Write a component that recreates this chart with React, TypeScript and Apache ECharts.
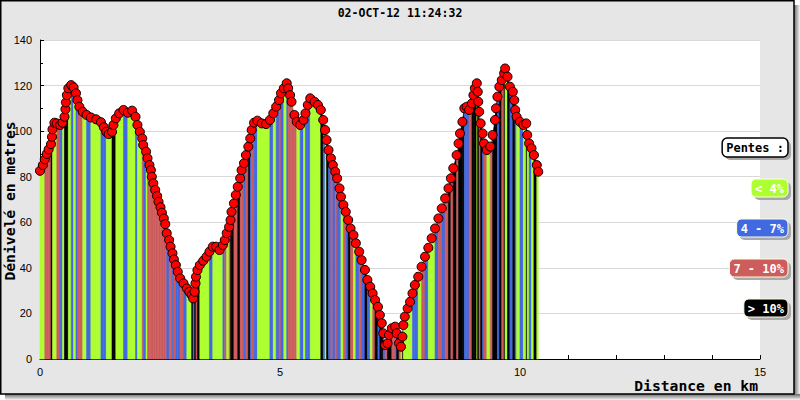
import { useEffect, useRef } from "react";
import * as echarts from "echarts";

const CHART_TITLE = "02-OCT-12 11:24:32";
const X_AXIS_NAME = "Distance en km";
const Y_AXIS_NAME = "Dénivelé en metres";
const X_MIN = 0;
const X_MAX = 15;
const X_INTERVAL = 5;
const Y_MIN = 0;
const Y_MAX = 140;
const Y_INTERVAL = 20;

const LEGEND_TITLE = "Pentes :";
const SLOPE_KEYS = ["g", "b", "r", "k"];
const SLOPE_LABELS = ["< 4%", "4 - 7%", "7 - 10%", "> 10%"];
const SLOPE_COLORS = ["#adff2f", "#4169e1", "#cd5c5c", "#000000"];

// distance along the track (km)
const DIST_KM = [
  0.0, 0.06, 0.1, 0.14, 0.18, 0.23, 0.25, 0.26, 0.3, 0.35,
  0.42, 0.47, 0.51, 0.53, 0.54, 0.56, 0.59, 0.65, 0.7, 0.75,
  0.78, 0.82, 0.89, 0.97, 1.06, 1.17, 1.27, 1.33, 1.38, 1.43,
  1.5, 1.53, 1.58, 1.65, 1.74, 1.83, 1.92, 1.99, 2.03, 2.08,
  2.13, 2.15, 2.21, 2.24, 2.28, 2.31, 2.33, 2.36, 2.4, 2.44,
  2.47, 2.51, 2.54, 2.58, 2.61,
  2.64, 2.69, 2.72, 2.76, 2.79, 2.83, 2.87, 2.92, 2.99, 3.06,
  3.11, 3.16, 3.19, 3.22, 3.24, 3.25, 3.28, 3.33, 3.4, 3.47,
  3.53, 3.6, 3.67, 3.74, 3.81, 3.85, 3.89, 3.94, 3.97, 3.99,
  4.04, 4.08, 4.12, 4.17, 4.2, 4.25, 4.29, 4.34, 4.38, 4.41,
  4.46, 4.53, 4.62, 4.71, 4.79, 4.86, 4.92, 4.98, 5.02, 5.08,
  5.14,
  5.17, 5.21, 5.24, 5.3, 5.35, 5.42, 5.49, 5.53, 5.58, 5.63,
  5.72, 5.79, 5.85, 5.9, 5.94, 5.97, 6.01, 6.06, 6.1, 6.15,
  6.19, 6.24, 6.27, 6.32, 6.37, 6.42, 6.47, 6.53, 6.58, 6.65,
  6.7, 6.77, 6.82, 6.88, 6.93, 6.98, 7.04, 7.08, 7.12, 7.15,
  7.19, 7.24, 7.27, 7.33, 7.4, 7.43, 7.48, 7.52, 7.55, 7.57,
  7.6, 7.66, 7.71, 7.76,
  7.81, 7.88, 7.95, 8.02, 8.09, 8.16, 8.23, 8.3, 8.37, 8.44,
  8.51, 8.56, 8.61, 8.68, 8.72, 8.75, 8.8, 8.84, 8.89, 8.94,
  9.0, 9.03, 9.06, 9.1, 9.12, 9.13, 9.15, 9.18, 9.22, 9.25,
  9.31, 9.38, 9.43, 9.48, 9.5, 9.53, 9.57, 9.62, 9.67, 9.69,
  9.74, 9.79, 9.85, 9.88, 9.9, 9.93, 10.0, 10.07, 10.13, 10.15,
  10.19, 10.24, 10.29, 10.35, 10.38,
];

// elevation (m)
const ELEVATION_M = [
  82.6, 85.1, 87.6, 90, 92, 94.3, 97.5, 100.8, 103.7, 103.4,
  102.7, 103.7, 106.3, 109.6, 112.6, 115.8, 118.8, 120.2, 119.2, 116.6,
  113.6, 110.7, 108.5, 107.1, 106, 105.2, 103.9, 101.7, 99.7, 98.7,
  99.7, 102.7, 105.6, 107.8, 109.3, 108.1, 109, 106.3, 102.7, 99.7,
  96.8, 93.9, 91, 88.1, 85.1, 82.9, 80, 77.1, 74.2, 71.5,
  69, 66.6, 64.2, 61.7, 59.2,
  55.2, 52.2, 49.3, 46.4, 43.7, 41.2, 38.3, 35.4, 33.2, 31,
  29.5, 28.1, 26.6, 29.5, 33.2, 36.1, 39, 41.2, 43.1, 44.9,
  47.1, 49.3, 49.3, 47.8, 50, 52.2, 55.2, 58, 61, 64.6,
  68.3, 72, 75.6, 79.3, 82.9, 85.9, 89.5, 93.2, 96.8, 100.5,
  103.7, 104.6, 103.4, 103.1, 104.9, 107.8, 110.7, 113.6, 116.6, 118.8,
  121,
  118.8, 115.8, 112.9, 107.1, 104.1, 102.7, 104.9, 107.8, 111.5, 114.4,
  112.9, 111.5, 109.3, 104.9, 100.5, 96.1, 91.7, 88.1, 85.1, 82.2,
  79.3, 74.9, 71.2, 67.6, 64.6, 61, 57.3, 54.4, 50.8, 47.1,
  43.4, 39.1, 34.7, 31.7, 28.8, 25.9, 22.9, 19.3, 15.7, 11.3,
  6.1, 6.9, 10.5, 13.5, 14.2, 11.3, 6.9, 5.4, 9.8, 14.9,
  18.6, 22.2, 25.1, 28.8,
  32.5, 36.1, 40.5, 44.9, 48.8, 53, 57.3, 61.7, 66.1, 70.5,
  74.9, 79.3, 83.7, 89.5, 94.6, 99, 104.1, 110, 110.7, 109.3,
  112.2, 115.8, 118.8, 121, 117.3, 112.9, 108.5, 103.4, 99, 94.6,
  91.7, 93.2, 98.3, 104.9, 110, 115.1, 119.5, 122.4, 125.4, 127.5,
  123.9, 119.5, 117.3, 113.6, 109.3, 106.3, 104.1, 102.7, 103.4, 98.3,
  94.6, 92.5, 89.5, 85.1, 82.2,
];

// slope class of the bar starting at each point: g <4%, b 4-7%, r 7-10%, k >10%
const SLOPE_CLASS = [
  "g", "g", "r", "r", "r", "k", "k", "g", "g", "r",
  "b", "g", "k", "k", "k", "k", "g", "b", "g", "b",
  "r", "r", "g", "b", "g", "g", "b", "b", "g", "g",
  "k", "k", "g", "g", "b", "g", "g", "b", "g", "g",
  "r", "b", "g", "r", "r", "r", "r", "r", "r", "r",
  "r", "r", "r", "r", "r",
  "b", "r", "r", "b", "r", "b", "b", "r", "b", "g",
  "g", "k", "b", "k", "k", "r", "k", "g", "g", "g",
  "b", "g", "g", "g", "b", "r", "g", "r", "k", "k",
  "r", "r", "k", "r", "r", "b", "r", "k", "b", "r",
  "b", "g", "g", "g", "b", "g", "b", "r", "b", "g",
  "b",
  "r", "r", "r", "r", "g", "b", "g", "b", "b", "g",
  "g", "g", "k", "b", "g", "k", "b", "r", "b", "r",
  "b", "b", "g", "r", "b", "k", "r", "g", "b", "r",
  "b", "k", "b", "g", "r", "k", "b", "k", "k", "b",
  "r", "k", "k", "r", "b", "k", "r", "g", "k", "g",
  "g", "g", "g", "b",
  "b", "g", "r", "b", "g", "g", "b", "r", "b", "r",
  "k", "r", "k", "r", "k", "k", "k", "b", "b", "r",
  "k", "k", "k", "g", "k", "k", "r", "k", "b", "r",
  "g", "r", "k", "k", "k", "b", "k", "r", "k", "g",
  "k", "b", "k", "k", "b", "g", "b", "g", "k", "g",
  "b", "g", "k", "g", "g",
];

const MONO = '"DejaVu Sans Mono", monospace';
const SANS = '"Liberation Sans", Arial, sans-serif';

export default function App() {
  const ref = useRef<HTMLDivElement>(null);

  useEffect(() => {
    document.body.style.margin = "0";
    if (!ref.current) return;
    const chart = echarts.init(ref.current, undefined, { renderer: "svg" });

    const segments: number[][] = [];
    for (let i = 0; i < DIST_KM.length - 1; i++) {
      segments.push([
        DIST_KM[i],
        DIST_KM[i + 1],
        ELEVATION_M[i],
        ELEVATION_M[i + 1],
        SLOPE_KEYS.indexOf(SLOPE_CLASS[i]),
      ]);
    }
    const points = DIST_KM.map((d, i) => [d, ELEVATION_M[i]]);

    const W = 800;
    const H = 400;
    const frameW = 794;
    const frameH = 394;

    const graphics: any[] = [
      {
        type: "rect",
        z: -20,
        silent: true,
        shape: { x: frameW, y: 5, width: W - frameW, height: H - 5 },
        style: {
          fill: new echarts.graphic.LinearGradient(0, 0, 1, 0, [
            { offset: 0, color: "#6a6a6a" },
            { offset: 1, color: "#f6f6f6" },
          ]),
        },
      },
      {
        type: "rect",
        z: -20,
        silent: true,
        shape: { x: 5, y: frameH, width: W - 5, height: H - frameH },
        style: {
          fill: new echarts.graphic.LinearGradient(0, 0, 0, 1, [
            { offset: 0, color: "#6a6a6a" },
            { offset: 1, color: "#f6f6f6" },
          ]),
        },
      },
      {
        type: "rect",
        z: -10,
        silent: true,
        shape: { x: 0.75, y: 0.75, width: frameW - 0.75, height: frameH - 0.75 },
        style: { fill: "#e6e6e6", stroke: "#000", lineWidth: 1.5 },
      },
      // axis names
      {
        type: "text",
        z: 40,
        silent: true,
        x: 758,
        y: 385,
        style: {
          text: X_AXIS_NAME,
          fill: "#000",
          fontFamily: MONO,
          fontWeight: "bold",
          fontSize: 14.7,
          align: "right",
          verticalAlign: "middle",
        },
      },
      {
        type: "text",
        z: 40,
        silent: true,
        x: 9,
        y: 201,
        rotation: Math.PI / 2,
        style: {
          text: Y_AXIS_NAME,
          fill: "#000",
          fontFamily: MONO,
          fontWeight: "bold",
          fontSize: 14.7,
          align: "center",
          verticalAlign: "middle",
        },
      },
    ];

    // legend boxes (right aligned)
    const legendRight = 788;
    const charW = 7.23;
    const items = [
      { text: LEGEND_TITLE, fill: "#ffffff", stroke: "#000000", color: "#000000", top: 138, h: 19, lw: 1.5 },
      ...SLOPE_LABELS.map((t, i) => ({
        text: t,
        fill: SLOPE_COLORS[i],
        stroke: "#ffffe0",
        color: "#ffffff",
        top: 179 + 40 * i,
        h: 18,
        lw: 1,
      })),
    ];
    items.forEach((it) => {
      const w = it.text.length * charW + 8;
      const x = legendRight - w;
      graphics.push({
        type: "rect",
        z: 50,
        silent: true,
        shape: { x: x + 3, y: it.top + 3, width: w, height: it.h, r: 5 },
        style: { fill: "#a8a8a8" },
      });
      graphics.push({
        type: "rect",
        z: 51,
        silent: true,
        shape: { x, y: it.top, width: w, height: it.h, r: 5 },
        style: { fill: it.fill, stroke: it.stroke, lineWidth: it.lw },
      });
      graphics.push({
        type: "text",
        z: 52,
        silent: true,
        x: x + w / 2,
        y: it.top + it.h / 2 + 0.5,
        style: {
          text: it.text,
          fill: it.color,
          fontFamily: MONO,
          fontWeight: "bold",
          fontSize: 12,
          align: "center",
          verticalAlign: "middle",
        },
      });
    });

    chart.setOption({
      animation: false,
      backgroundColor: "#ffffff",
      title: {
        text: CHART_TITLE,
        left: "center",
        top: 7,
        padding: 0,
        textStyle: {
          fontFamily: MONO,
          fontWeight: "bold",
          fontSize: 11.5,
          color: "#000",
        },
      },
      grid: {
        left: 40,
        right: 40,
        top: 40,
        bottom: 41,
        containLabel: false,
        outerBoundsMode: "none",
        show: true,
        backgroundColor: "#ffffff",
        borderWidth: 0,
      },
      graphic: graphics,
      xAxis: {
        type: "value",
        min: X_MIN,
        max: X_MAX,
        interval: X_INTERVAL,
        axisLine: { show: true, lineStyle: { color: "#000", width: 1 } },
        axisTick: { show: true, inside: true, length: 4, lineStyle: { color: "#000" } },
        minorTick: { show: true, splitNumber: 5, length: 4, lineStyle: { color: "#000" } },
        axisLabel: { margin: 7, fontFamily: SANS, fontSize: 11, color: "#000" },
        splitLine: { show: false },
      },
      yAxis: {
        type: "value",
        min: Y_MIN,
        max: Y_MAX,
        interval: Y_INTERVAL,
        axisLine: { show: true, lineStyle: { color: "#000", width: 1 } },
        axisTick: { show: true, inside: true, length: 4, lineStyle: { color: "#000" } },
        minorTick: { show: true, splitNumber: 2, length: 3, lineStyle: { color: "#000" } },
        axisLabel: { margin: 8, fontFamily: SANS, fontSize: 11, color: "#000" },
        splitLine: { show: true, lineStyle: { color: "#d9d9d9", width: 1 } },
      },
      series: [
        {
          type: "custom",
          name: "pentes",
          data: segments,
          encode: { x: [0, 1], y: [2, 3] },
          renderItem: (params: any, api: any) => {
            const x0 = api.value(0);
            const x1 = api.value(1);
            const p0 = api.coord([x0, 0]);
            const p1 = api.coord([x0, api.value(2)]);
            const p2 = api.coord([x1, api.value(3)]);
            const p3 = api.coord([x1, 0]);
            const c = SLOPE_COLORS[api.value(4)];
            return {
              type: "polygon",
              shape: { points: [p0, p1, p2, p3] },
              style: { fill: c, stroke: c, lineWidth: 0.6 },
            };
          },
          z: 2,
        },
        {
          type: "scatter",
          name: "points",
          data: points,
          symbol: "circle",
          symbolSize: 9,
          itemStyle: { color: "#ff0000", borderColor: "#000000", borderWidth: 1, opacity: 1 },
          z: 5,
        },
      ],
    });

    return () => chart.dispose();
  }, []);

  return <div ref={ref} style={{ width: 800, height: 400 }} />;
}
